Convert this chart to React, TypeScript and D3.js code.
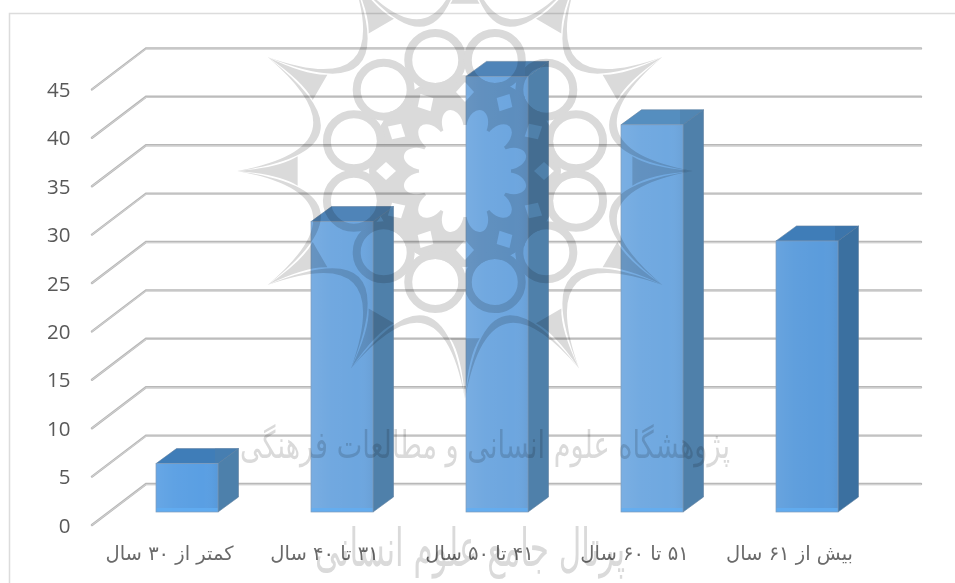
import React from "react";
import * as d3 from "d3";

const ageGroups = ["کمتر از ۳۰ سال", "۳۱ تا ۴۰ سال", "۴۱ تا ۵۰ سال", "۵۱ تا ۶۰ سال", "بیش از ۶۱ سال"];
const respondents = [5, 30, 45, 40, 28];
const yTicks = [0, 5, 10, 15, 20, 25, 30, 35, 40, 45];
const frontFills = ["#5a9fe3", "#6da6df", "#6da6df", "#6fa8e0", "#5b9cdc"];
const sideFills = ["#4d80ab", "#4f80aa", "#4f80aa", "#4f80aa", "#3b70a0"];
const topFills = ["#3f7db8", "#4f84b8", "#4f84b8", "#558ebf", "#3f7db8"];
const sealLine = "پژوهشگاه علوم انسانی و مطالعات فرهنگی";
const portalLine = "پرتال جامع علوم انسانی";

const W = 955;
const H = 583;
const floor = { dx: 54, dy: -41 };
const barShift = { dx: 17.5, dy: -13 };
const barDepth = { dx: 20.5, dy: -15 };

const x = d3.scaleBand<string>().domain(ageGroups).range([92, 867]).padding(0);
const y = d3.scaleLinear().domain([0, 45]).range([525, 89.4]);
const barWidth = 62;
const inkGrey = "#dadada";

const polar = (cx: number, cy: number, r: number, deg: number): [number, number] => {
  const a = (deg * Math.PI) / 180;
  return [cx + r * Math.cos(a), cy + r * Math.sin(a)];
};
const pts = (list: [number, number][]) => list.map((p) => p.join(",")).join(" ");

// Twelve-fold rosette emblem that sits behind the text line
function Rosette({ cx, cy }: { cx: number; cy: number }) {
  const steps = d3.range(12).map((k) => k * 30);
  const scallop = (a: number) => {
    const p1 = polar(cx, cy, 228, a);
    const p2 = polar(cx, cy, 228, a + 30);
    const c1 = polar(cx, cy, 96, a + 15);
    const c2 = polar(cx, cy, 80, a + 15);
    return `M${p1}Q${c1} ${p2}Q${c2} ${p1}Z`;
  };
  // solid concave spike from each tip down to where its two arcs part
  const spike = (a: number) => {
    const tip = polar(cx, cy, 228, a);
    const b1 = polar(cx, cy, 168, a - 5);
    const b2 = polar(cx, cy, 168, a + 5);
    const c1 = polar(cx, cy, 185, a - 1);
    const c2 = polar(cx, cy, 185, a + 1);
    return `M${tip}Q${c1} ${b1}L${b2}Q${c2} ${tip}Z`;
  };
  return (
    <g>
      <mask id="rosette-holes">
        <circle cx={cx} cy={cy} r={96} fill="#fff" />
        <circle cx={cx} cy={cy} r={46} fill="#000" />
        {steps.map((a) => (
          <ellipse
            key={a}
            cx={cx + 47}
            cy={cy}
            rx={16}
            ry={10.5}
            fill="#000"
            transform={`rotate(${a + 15} ${cx} ${cy})`}
          />
        ))}
        {steps.map((a) => {
          const [mx, my] = polar(cx, cy, 79, a);
          return (
            <polygon
              key={a}
              points={pts([
                polar(mx, my, 10, a),
                polar(mx, my, 9, a + 90),
                polar(mx, my, 10, a + 180),
                polar(mx, my, 9, a + 270),
              ])}
              fill="#000"
            />
          );
        })}
        {steps.map((a) => {
          const [mx, my] = polar(cx, cy, 115, a + 15);
          return <circle key={a} cx={mx} cy={my} r={23} fill="#000" />;
        })}
      </mask>
      <circle cx={cx} cy={cy} r={96} mask="url(#rosette-holes)" />
      {steps.map((a) => {
        const [mx, my] = polar(cx, cy, 115, a + 15);
        return <circle key={a} cx={mx} cy={my} r={27} fill="none" stroke={inkGrey} strokeWidth={8} />;
      })}
      {steps.map((a) => (
        <path key={a} d={scallop(a)} />
      ))}
      {steps.map((a) => (
        <path key={a} d={spike(a)} />
      ))}
    </g>
  );
}

export default function App() {
  return (
    <svg
      width={W}
      height={H}
      viewBox={`0 0 ${W} ${H}`}
      style={{ position: "absolute", left: 0, top: 0, background: "#fff" }}
    >
      <defs>
        <linearGradient id="front-sheen" x1="0" x2="1" y1="0" y2="0">
          <stop offset="0" stopColor="#fff" stopOpacity={0.08} />
          <stop offset="0.3" stopColor="#fff" stopOpacity={0.03} />
          <stop offset="0.75" stopColor="#fff" stopOpacity={0} />
          <stop offset="1" stopColor="#000" stopOpacity={0.04} />
        </linearGradient>
      </defs>

      <path d={`M9.5 ${H}V13.5H${W}`} fill="none" stroke="#dcdcdc" strokeWidth={1.5} />

      {/* gridlines: the diagonal on the side wall and the run along the back wall */}
      <g fill="none" strokeLinecap="round">
        {yTicks.map((t) => (
          <g key={t}>
            <polyline
              points={pts([
                [92, y(t)],
                [92 + floor.dx, y(t) + floor.dy],
                [867 + floor.dx, y(t) + floor.dy],
              ])}
              stroke="#b8b8b8"
              strokeWidth={2.4}
            />
            <polyline
              points={pts([
                [92, y(t)],
                [92 + floor.dx, y(t) + floor.dy + 0.5],
                [867 + floor.dx, y(t) + floor.dy + 0.5],
              ])}
              stroke="#d8d8d8"
              strokeWidth={0.8}
            />
          </g>
        ))}
      </g>

      <g fontFamily="'Open Sans', sans-serif" fontSize={20.5} fill="#595959" textAnchor="end">
        {yTicks.map((t) => (
          <text key={t} x={70.5} y={y(t) - 0.5} dominantBaseline="central">
            {t}
          </text>
        ))}
      </g>

      {/* 3D columns: top, side, front */}
      {ageGroups.map((g, i) => {
        const left = (x(g) as number) + x.bandwidth() / 2 + barShift.dx - barWidth / 2;
        const right = left + barWidth;
        const base = y(0) + barShift.dy;
        const top = base - (y(0) - y(respondents[i]));
        const { dx, dy } = barDepth;
        return (
          <g key={g}>
            <polygon
              points={pts([
                [left, top],
                [left + dx, top + dy],
                [right + dx, top + dy],
                [right, top],
              ])}
              fill={topFills[i]}
              stroke="#5f7f9f"
              strokeWidth={0.6}
            />
            <polygon
              points={pts([
                [right, top],
                [right + dx, top + dy],
                [right + dx, base + dy],
                [right, base],
              ])}
              fill={sideFills[i]}
              stroke="#5f7f9f"
              strokeWidth={0.6}
            />
            <polygon
              points={pts([
                [right - 3, top + dy],
                [right + dx, top + dy],
                [right, top],
                [right - 3, top],
              ])}
              fill={sideFills[i]}
              opacity={0.55}
            />
            <rect x={left} y={top} width={barWidth} height={base - top} fill={frontFills[i]} />
            <rect x={left} y={top} width={barWidth} height={base - top} fill="url(#front-sheen)" />
            <rect x={left} y={base - 4} width={barWidth} height={4} fill="#62aef2" opacity={0.8} />
            <rect
              x={left}
              y={top}
              width={barWidth}
              height={base - top}
              fill="none"
              stroke="#7f9cba"
              strokeWidth={0.7}
            />
          </g>
        );
      })}

      <g fontFamily="'DejaVu Sans', sans-serif" fontSize={19.5} fill="#6a6a6a" textAnchor="middle">
        {ageGroups.map((g) => (
          <text key={g} x={(x(g) as number) + x.bandwidth() / 2} y={560} direction="rtl">
            {g}
          </text>
        ))}
      </g>

      {/* institutional watermark printed over the whole figure */}
      <g style={{ mixBlendMode: "multiply" }} fill={inkGrey}>
        <Rosette cx={465} cy={171} />
        <text
          x={485}
          y={458}
          fontFamily="'DejaVu Sans', sans-serif"
          fontSize={38}
          textAnchor="middle"
          direction="rtl"
          textLength={490}
          lengthAdjust="spacingAndGlyphs"
        >
          {sealLine}
        </text>
        <text
          x={470}
          y={566}
          fontFamily="'DejaVu Sans', sans-serif"
          fontSize={52}
          textAnchor="middle"
          direction="rtl"
          textLength={310}
          lengthAdjust="spacingAndGlyphs"
        >
          {portalLine}
        </text>
      </g>
    </svg>
  );
}
